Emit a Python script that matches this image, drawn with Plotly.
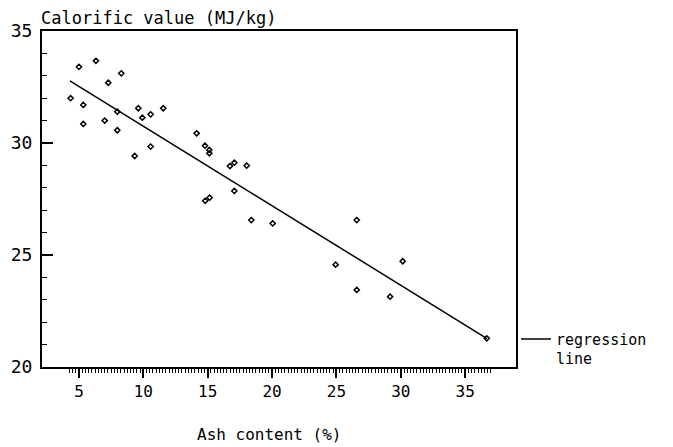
import numpy as np
import plotly.graph_objects as go

# Data
ash = [4.35, 5.0, 6.32, 5.34, 5.34, 7.28, 8.29, 7.0, 7.98, 7.98, 9.33, 9.61, 9.92,
       10.57, 10.57, 11.55, 14.14, 14.79, 15.13, 15.13, 16.73, 17.07, 18.03, 17.07,
       14.81, 15.15, 18.39, 20.05, 26.58, 24.94, 30.15, 26.58, 29.17, 36.68]
calorific = [32.0, 33.4, 33.67, 31.7, 30.85, 32.69, 33.11, 31.0, 31.4, 30.57, 29.42,
             31.55, 31.13, 31.28, 29.84, 31.55, 30.43, 29.88, 29.69, 29.54, 28.97,
             29.12, 28.99, 27.86, 27.42, 27.56, 26.56, 26.41, 26.56, 24.57, 24.72,
             23.44, 23.14, 21.28]

reg_intercept = 34.30
reg_slope = -0.355
reg_x = [4.3, 36.7]
reg_y = [reg_intercept + reg_slope * v for v in reg_x]

x_ticks = [5, 10, 15, 20, 25, 30, 35]
y_ticks = [20, 25, 30, 35]

FONT = "DejaVu Sans Mono"

fig = go.Figure()
fig.add_trace(go.Scatter(
    x=reg_x, y=reg_y, mode="lines",
    line=dict(color="black", width=1.5),
    name="regression<br>line", showlegend=True,
))
fig.add_trace(go.Scatter(
    x=ash, y=calorific, mode="markers",
    marker=dict(symbol="diamond-open", size=4, color="black", line=dict(width=1.5, color="black")),
    showlegend=False,
))

fig.update_layout(
    width=673, height=447,
    margin=dict(l=42, r=157, t=31, b=80, autoexpand=False),
    paper_bgcolor="white", plot_bgcolor="white",
    font=dict(family=FONT, color="black", size=15),
    showlegend=True,
    legend=dict(
        x=1.0, xanchor="left", y=0.132, yanchor="top",
        valign="top", bgcolor="rgba(0,0,0,0)",
        font=dict(family=FONT, size=15, color="black"),
        tracegroupgap=0, itemwidth=30,
    ),
    xaxis=dict(
        range=[2.13, 38.95], showgrid=False, zeroline=False, automargin=False,
        showline=True, linecolor="black", linewidth=2, mirror=True,
        ticks="outside", ticklen=9, tickwidth=2, tickcolor="black",
        tickmode="array", tickvals=x_ticks, ticktext=[str(t) for t in x_ticks],
        tickfont=dict(family=FONT, size=16, color="black"),
        ticklabelstandoff=0,
        minor=dict(tickmode="array", tickvals=list(np.arange(4.25, 37.01, 0.25)),
                   ticks="outside", ticklen=4, tickwidth=1, tickcolor="black"),
    ),
    yaxis=dict(
        range=[20, 35], showgrid=False, zeroline=False, automargin=False,
        showline=True, linecolor="black", linewidth=2, mirror=True,
        ticks="inside", ticklen=11, tickwidth=2, tickcolor="black",
        tickmode="array", tickvals=y_ticks, ticktext=[str(t) for t in y_ticks],
        tickfont=dict(family=FONT, size=18, color="black"),
        ticklabelstandoff=4,
        minor=dict(dtick=1, ticks="inside", ticklen=5, tickwidth=1, tickcolor="black"),
    ),
    annotations=[
        dict(text="Calorific value (MJ/kg)", xref="paper", yref="paper",
             x=0, y=1, xanchor="left", yanchor="bottom", yshift=1, xshift=-3,
             showarrow=False, font=dict(family=FONT, size=17, color="black")),
        dict(text="Ash content (%)", xref="paper", yref="paper",
             x=0.48, y=0, xanchor="center", yanchor="middle", yshift=-67,
             showarrow=False, font=dict(family=FONT, size=16, color="black")),
    ],
)

fig.write_html("out.html")
